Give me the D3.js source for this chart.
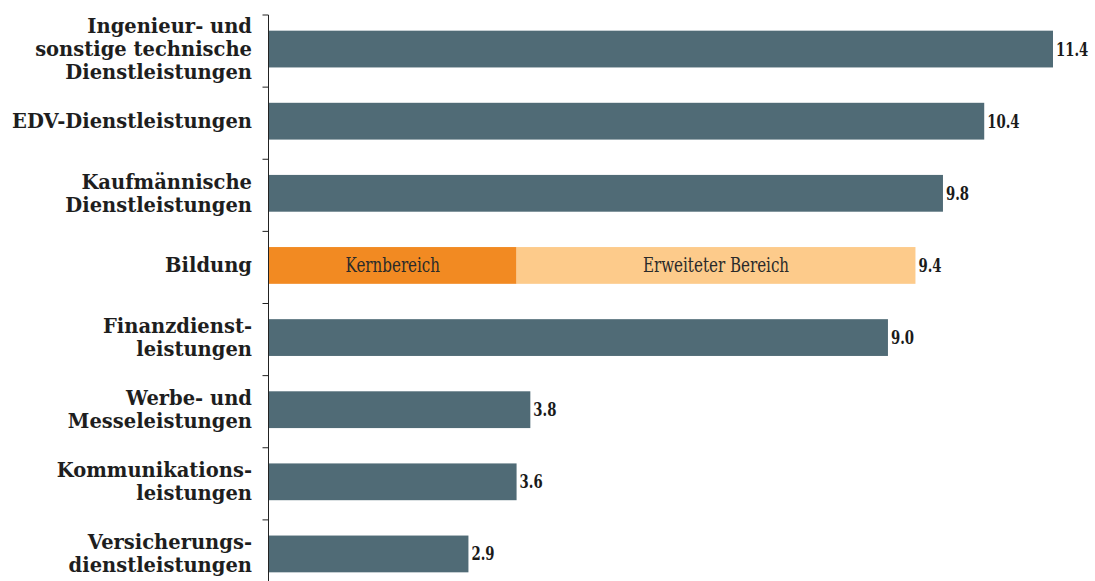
<!DOCTYPE html>
<html>
<head>
<meta charset="utf-8">
<script src="https://cdn.jsdelivr.net/npm/d3@7"></script>
<style>
  body { margin: 0; background: #fff; }
  svg { display: block; }
  text { font-family: "DejaVu Serif", serif; }
</style>
</head>
<body>
<div id="chart"></div>
<script>
const categories = [
  ["Ingenieur- und", "sonstige technische", "Dienstleistungen"],
  ["EDV-Dienstleistungen"],
  ["Kaufmännische", "Dienstleistungen"],
  ["Bildung"],
  ["Finanzdienst-", "leistungen"],
  ["Werbe- und", "Messeleistungen"],
  ["Kommunikations-", "leistungen"],
  ["Versicherungs-", "dienstleistungen"]
];
const values = [11.4, 10.4, 9.8, 9.4, 9.0, 3.8, 3.6, 2.9];
const valueLabels = ["11.4", "10.4", "9.8", "9.4", "9.0", "3.8", "3.6", "2.9"];
// Bildung split into two parts
const bildungIndex = 3;
const bildungParts = [
  { name: "Kernbereich", value: 3.6 },
  { name: "Erweiteter Bereich", value: 5.8 }
];

const width = 1095, height = 581;
const barColor = "#506b76";
const partColors = ["#f28a22", "#fdcb8b"];

const svg = d3.select("#chart").append("svg")
  .attr("width", width)
  .attr("height", height);

const x = d3.scaleLinear().domain([0, 11.4]).range([269, 1053]);

const y = d3.scaleBand()
  .domain(d3.range(categories.length))
  .range([13, 590])
  .paddingInner(0.49)
  .paddingOuter(0.245);

// axis line and ticks at band boundaries
const axisX = 268.5;
svg.append("line")
  .attr("x1", axisX).attr("x2", axisX)
  .attr("y1", 15).attr("y2", height)
  .attr("stroke", "#222").attr("stroke-width", 1);

const step = y.step();
svg.selectAll(".tick")
  .data(d3.range(categories.length))
  .enter().append("line")
  .attr("x1", axisX - 6).attr("x2", axisX)
  .attr("y1", d => y(d) - step * 0.245 + 2)
  .attr("y2", d => y(d) - step * 0.245 + 2)
  .attr("stroke", "#222").attr("stroke-width", 1);

// bars
svg.selectAll(".bar")
  .data(values.map((v, i) => ({ v, i })).filter(d => d.i !== bildungIndex))
  .enter().append("rect")
  .attr("x", x(0))
  .attr("y", d => y(d.i))
  .attr("width", d => x(d.v) - x(0))
  .attr("height", y.bandwidth())
  .attr("fill", barColor);

// stacked Bildung bar
let cum = 0;
const stacked = bildungParts.map(p => {
  const s = { name: p.name, x0: cum, x1: cum + p.value };
  cum += p.value;
  return s;
});
svg.selectAll(".part")
  .data(stacked)
  .enter().append("rect")
  .attr("x", d => x(d.x0))
  .attr("y", y(bildungIndex))
  .attr("width", d => x(d.x1) - x(d.x0))
  .attr("height", y.bandwidth())
  .attr("fill", (d, i) => partColors[i]);

svg.selectAll(".partLabel")
  .data(stacked)
  .enter().append("text")
  .attr("transform", d => `translate(${(x(d.x0) + x(d.x1)) / 2}, ${y(bildungIndex) + y.bandwidth() / 2 + 7}) scale(0.755,1)`)
  .attr("text-anchor", "middle")
  .style("font-size", "20px")
  .attr("fill", "#2a2a2a")
  .text(d => d.name);

// value labels
svg.selectAll(".val")
  .data(values)
  .enter().append("text")
  .attr("transform", (d, i) => `translate(${x(d) + 3}, ${y(i) + y.bandwidth() / 2 + 6.5}) scale(0.7,1)`)
  .style("font-weight", "bold")
  .style("font-size", "19px")
  .attr("fill", "#1a1a1a")
  .text((d, i) => valueLabels[i]);

// category labels
const lineH = 23;
const labels = svg.selectAll(".cat")
  .data(categories)
  .enter().append("text")
  .attr("text-anchor", "end")
  .style("font-weight", "bold")
  .style("font-size", "19.5px")
  .attr("fill", "#1e1e1e");

labels.each(function (lines, i) {
  const cy = y(i) + y.bandwidth() / 2;
  d3.select(this).selectAll("tspan")
    .data(lines)
    .enter().append("tspan")
    .attr("x", 252)
    .attr("y", (l, j) => cy + (j - (lines.length - 1) / 2) * lineH + 7)
    .text(l => l);
});
</script>
</body>
</html>
